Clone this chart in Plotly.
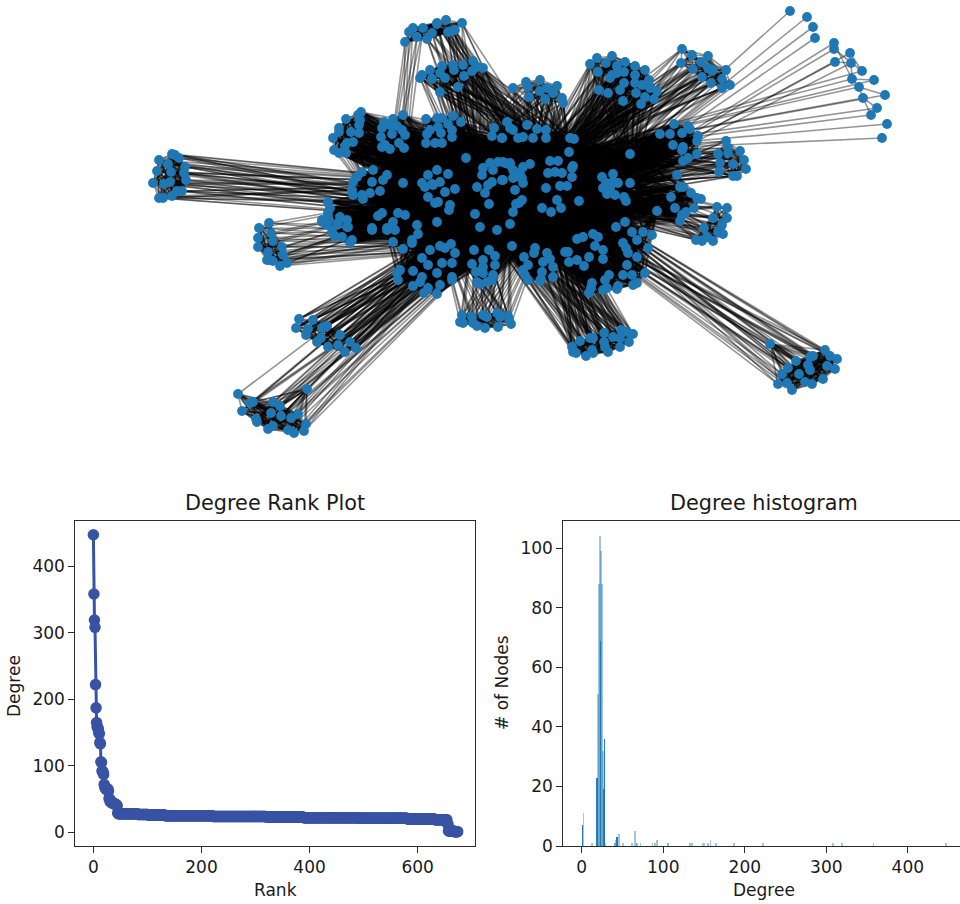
import math
import plotly.graph_objects as go

# ---------- degree histogram ----------
hist_degree = [1, 2, 12, 13, 19, 20, 21, 22, 23, 24, 25, 26, 27, 28, 29, 40, 41, 42, 43, 44, 46, 50, 51, 62, 65, 67, 68,
               72, 87, 90, 92, 105, 106, 133, 135, 148, 150, 155, 158, 165, 187, 222, 308, 319, 358, 447]
hist_count = [7, 11, 1, 1, 23, 51, 88, 104, 69, 99, 88, 32, 19, 36, 1, 1, 1, 2, 3, 3, 4, 1, 1, 1, 5, 1, 1,
              1, 1, 1, 2, 1, 1, 1, 1, 1, 1, 1, 2, 1, 1, 1, 1, 1, 1, 1]
darker_bars = [1, 19, 23, 27, 28, 43]

# ---------- network nodes, grouped by community (picture coordinates) ----------
n_left = [(172,154),(175,155),(179,158),(159,160),(168,164),(185,167),(184,173),(157,171),(171,172),(186,180),(170,182),(164,184),(153,183),(182,191),(177,191),(172,196),(163,198),(159,198)]
n_b = [(361,112),(358,115),(346,119),(360,120),(359,125),(339,128),(339,132),(351,132),(359,133),(333,138),(353,142),(347,143),(345,146),(334,150),(339,153),(346,153)]
n_c = [(403,115),(393,119),(384,122),(382,128),(390,125),(397,126),(402,130),(405,135),(392,134),(381,137),(399,143),(382,147),(390,149),(404,148),(385,145)]
n_d = [(426,119),(437,118),(442,118),(453,116),(461,122),(448,124),(452,130),(438,127),(430,130),(427,134),(441,133),(452,137),(426,143),(435,143),(442,143)]
n_top_a = [(423,28),(413,28),(409,32),(417,37),(405,42)]
n_top_b = [(446,20),(437,23),(462,23),(432,33),(452,31),(448,32),(427,39),(455,30),(437,24)]
n_f = [(473,61),(483,68),(477,67),(472,71),(463,65),(453,65),(442,66),(430,70),(422,75),(420,78),(440,73),(454,70),(464,76),(445,78),(432,79),(458,87),(440,92)]
n_g = [(513,88),(526,82),(540,80),(528,87),(547,88),(557,86),(553,93),(540,91),(529,97),(545,99),(562,98),(563,103)]
n_h = [(597,58),(612,56),(590,64),(606,63),(625,62),(617,66),(635,66),(645,70),(598,72),(612,75),(624,72),(610,78),(635,75),(624,83),(599,90),(608,93),(620,90),(635,83),(642,85),(649,80),(650,88),(657,91),(636,93),(645,97),(654,99),(623,101),(641,104),(617,73)]
n_i = [(682,49),(692,55),(708,56),(681,63),(701,62),(693,69),(708,68),(712,71),(726,70),(702,77),(722,79),(711,83),(730,85),(722,88),(713,70)]
n_far = [(790,11),(807,17),(813,27),(815,38),(834,43),(834,49),(835,62),(850,53),(851,63),(862,71),(852,79),(874,80),(859,87),(885,95),(863,98),(877,108),(871,115),(887,124),(882,138)]
n_k = [(674,124),(688,126),(690,129),(660,134),(670,134),(682,133),(698,136),(697,141),(673,145),(683,147),(682,150),(697,154),(688,158),(683,161)]
n_l = [(726,141),(728,148),(740,151),(718,154),(728,153),(744,160),(733,164),(720,163),(746,169),(719,172),(733,176),(737,176)]
n_m = [(630,154),(677,175),(680,187),(683,187),(691,193),(671,197),(697,198),(701,199),(675,208),(657,211),(694,208),(686,212),(682,215),(680,221)]
n_n = [(717,207),(727,208),(713,218),(727,218),(704,228),(722,225),(718,232),(723,234),(696,240),(702,241),(707,237),(713,241)]
n_blob = [(613,174),(602,177),(613,182),(606,183),(610,187),(618,183),(603,188),(610,190),(615,195),(607,194),(630,183),(624,197),(626,201),(579,201)]
n_mid = [(507,122),(510,128),(513,130),(527,125),(537,129),(546,130),(533,138),(546,138),(518,138),(523,137),(502,138),(570,138),(574,139),(569,152),(530,164),(550,161),(558,161),(573,166),(572,168),(503,162),(510,163),(513,170),(503,180),(520,173),(513,178),(523,183),(515,190),(548,173),(555,172),(562,173),(572,177),(546,188),(560,186),(567,186),(557,200),(522,200),(516,204),(513,212),(542,208),(551,212),(561,208),(510,224)]
n_o = [(373,170),(362,172),(357,177),(387,175),(353,182),(372,182),(383,180),(352,190),(380,191),(353,195),(362,195),(370,193),(363,199),(403,183)]
n_p = [(437,170),(428,175),(448,174),(422,183),(432,184),(425,187),(440,182),(433,185),(455,189),(445,192),(428,197),(438,202),(435,203),(450,205),(449,210),(466,158)]
n_q = [(505,163),(498,162),(490,163),(510,165),(483,168),(493,170),(482,175),(502,180),(492,182),(488,185),(477,187),(485,193),(515,177),(522,178),(519,203),(489,204),(475,214),(480,227),(523,167)]
n_r = [(494,128),(492,136),(502,138)]
n_s = [(328,202),(330,208),(328,213),(322,220),(329,220),(340,217),(347,220),(338,223),(348,227),(327,225),(382,213),(378,216),(398,213),(405,215),(393,222),(417,225),(437,222),(372,228),(387,228)]
n_t = [(269,223),(259,228),(271,233),(258,238),(273,241),(258,247),(282,247),(268,252),(283,255),(270,260),(267,260),(273,261),(287,263),(280,266)]
n_s2 = [(322,222),(337,225),(347,227),(332,232),(335,236),(342,237),(352,240),(350,243),(372,230)]
n_u = [(387,230),(395,230),(393,242),(418,234),(412,240),(412,243),(403,249),(430,250),(440,246),(445,248),(451,244),(455,253),(422,258),(428,265),(442,263),(452,263),(437,273),(400,270),(397,273),(413,271),(422,277),(398,280),(420,282),(413,286),(440,285),(452,277),(452,280),(428,288),(424,293),(437,294)]
n_v = [(474,250),(489,250),(495,256),(483,260),(472,264),(495,265),(483,267),(476,272),(493,275),(483,273),(477,282),(487,282),(492,280),(480,284)]
n_core = [(497,230),(512,246)]
n_w = [(535,248),(534,253),(524,257),(547,253),(528,265),(543,262),(550,259),(553,267),(523,270),(542,272),(553,277),(541,279),(525,275),(528,280),(540,281)]
n_x = [(577,239),(583,237),(593,234),(598,237),(565,252),(568,252),(595,246),(603,250),(589,257),(603,259),(577,260),(569,262),(584,266)]
n_y = [(616,227),(625,222),(632,232),(637,240),(623,243),(643,232),(652,235),(626,248),(628,253),(648,248),(637,257),(627,265),(645,273),(623,275),(632,275),(637,283),(633,285),(609,275),(605,280),(618,286),(617,289),(592,283),(591,288),(589,293),(603,290),(607,288)]
n_z = [(462,315),(460,322),(472,317),(483,315),(487,317),(497,313),(508,316),(509,319),(463,323),(473,323),(477,326),(498,327),(485,328),(511,324),(500,317)]
n_aa = [(580,341),(590,338),(593,338),(604,333),(621,330),(627,332),(633,334),(613,337),(620,338),(629,342),(572,347),(573,352),(604,342),(620,347),(605,347),(592,350),(593,353),(608,352),(586,356),(576,353)]
n_ab = [(825,350),(830,356),(837,359),(813,356),(810,357),(796,361),(808,365),(827,366),(788,368),(782,374),(810,370),(835,369),(799,374),(823,379),(787,383),(805,382),(812,384),(778,384),(792,390)]
n_ab_lone = [(770,344)]
n_ac = [(299,319),(313,320),(327,326),(322,328),(296,328),(308,329),(306,335),(340,335),(321,338),(317,342),(350,342),(338,345),(328,347),(356,348),(345,352)]
n_ad = [(273,402),(280,406),(253,402),(250,403),(242,411),(271,413),(281,416),(298,414),(291,418),(256,419),(257,422),(273,426),(268,429),(306,424),(288,430),(304,431),(294,433)]
n_ad_lone = [(238,394),(307,389)]

# hub nodes that the communities attach to (all are nodes listed above)
hubs = [(488,185),(489,204),(510,224),(475,214),(497,230),(512,246),(519,203),(542,208),(551,212),(561,208),
        (579,201),(569,152),(546,188),(530,164),(466,158),(437,222),(403,183),(382,213),(630,183),(657,211),(630,154)]
core_hubs = [0, 1, 2, 3, 4, 5, 6, 7, 8, 9, 10, 11, 12, 13]

# which community attaches to which hub
outer_links = [
    (n_left, [0, 1, 2]), (n_t, [0, 4, 5]), (n_ac, [3, 1, 4, 2, 6]), (n_ad, [1, 2]), (n_ad_lone, [1]),
    (n_z, [15, 3, 2, 8]), (n_aa, [3, 4, 6, 8, 7, 9]), (n_ab, [10, 8]), (n_ab_lone, [9]),
    (n_top_a, [17, 16]), (n_top_b, [14, 4, 8, 10, 13]), (n_f, [3, 4, 13, 11, 10, 18]),
    (n_g, [14, 13, 6, 12, 11, 10]), (n_h, [6, 13, 11, 10, 18, 12]), (n_i, [11, 12, 13, 10]),
    (n_l, [18, 10, 11, 12, 20]), (n_n, [18, 10, 9, 19]),
]
inner_links = [
    (n_b, core_hubs + [16, 17]), (n_c, core_hubs + [16, 17]), (n_d, core_hubs + [14, 16]), (n_o, core_hubs + [16, 17, 15]),
    (n_p, core_hubs + [14, 15, 16, 17]), (n_s, core_hubs + [15, 16, 17]), (n_s2, core_hubs + [15, 17]), (n_u, core_hubs + [15, 17]),
    (n_v, core_hubs + [15]), (n_w, core_hubs), (n_x, core_hubs + [18]), (n_y, core_hubs + [18, 19]),
    (n_k, core_hubs + [18, 20]), (n_m, core_hubs + [18, 20]), (n_blob, core_hubs + [19, 20]),
    (n_mid, core_hubs + [14, 15, 18, 19, 20]), (n_q, core_hubs + [14, 15, 16, 18]), (n_r, core_hubs), (n_core, core_hubs),
]
far_links = [(0, 10), (1, 10), (2, 10), (3, 10), (4, 10), (5, 10), (6, 10), (7, 10), (8, 10),
             (9, 11), (10, 11), (11, 11), (12, 11), (13, 11), (14, 11), (15, 11), (16, 11), (17, 11), (18, 11)]
far_inner = [(4, 10), (5, 9), (6, 8), (8, 10), (10, 12), (10, 11), (12, 14), (12, 13), (14, 16), (14, 15), (15, 16), (7, 9)]
# lone nodes sitting beside a community, with their links into it
extra_local = [n_top_a + n_top_b, n_ad + n_ad_lone, n_ab + n_ab_lone]

# ---------- styles ----------
EDGE = "rgba(0,0,0,0.42)"
EDGE_W = 1.6
NODE = "#1f78b4"
RANK = "#3953a4"
BAR = "#1f77b4"
AXIS = "#2b2b2b"
TEXT = "#1a1a1a"
FONT = "DejaVu Sans"

fig = go.Figure()

def edge_trace(pairs):
    xs, ys = [], []
    for a, b in pairs:
        xs += [a[0], b[0], None]
        ys += [a[1], b[1], None]
    fig.add_trace(go.Scatter(x=xs, y=ys, mode="lines", line=dict(color=EDGE, width=EDGE_W),
                             hoverinfo="skip", showlegend=False, xaxis="x3", yaxis="y3"))

def local_edges(nodes, radius):
    groups = [[] for _ in range(6)]
    for i in range(len(nodes)):
        for j in range(i + 1, len(nodes)):
            if math.dist(nodes[i], nodes[j]) <= radius:
                groups[(i + j) % 6].append((nodes[i], nodes[j]))
    for g in groups:
        if g:
            edge_trace(g)

for nodes in extra_local:
    local_edges(nodes, 62)

# peripheral communities: dense inside, one trace per hub so strands add up
for nodes, targets in outer_links:
    if not any(nodes is m or nodes is n_top_b for m in (n_top_a, n_ad, n_ad_lone, n_ab, n_ab_lone)):
        local_edges(nodes, 38)
    for t in targets:
        edge_trace([(p, hubs[t]) for p in nodes])

# central communities: a few hubs in each trace
for nodes, targets in inner_links:
    local_edges(nodes, 38)
    for k in range(0, len(targets), 3):
        edge_trace([(p, hubs[t]) for p in nodes for t in targets[k:k + 3]])

edge_trace([(n_far[i], hubs[t]) for i, t in far_links])
edge_trace([(n_far[i], n_far[j]) for i, j in far_inner])

all_nodes = []
for group in (n_left, n_b, n_c, n_d, n_top_a, n_top_b, n_f, n_g, n_h, n_i, n_far, n_k, n_l, n_m, n_n, n_blob, n_mid,
              n_o, n_p, n_q, n_r, n_s, n_t, n_s2, n_u, n_v, n_core, n_w, n_x, n_y, n_z, n_aa, n_ab, n_ab_lone,
              n_ac, n_ad, n_ad_lone):
    all_nodes += group

fig.add_trace(go.Scatter(x=[p[0] for p in all_nodes], y=[p[1] for p in all_nodes], mode="markers",
                         marker=dict(color=NODE, size=9.8, line=dict(width=0)),
                         hoverinfo="skip", showlegend=False, xaxis="x3", yaxis="y3"))

# ---------- rank plot: sorted degrees expanded from the histogram ----------
degree_sequence = []
for d, c in sorted(zip(hist_degree, hist_count), reverse=True):
    degree_sequence += [d] * c
fig.add_trace(go.Scatter(x=list(range(len(degree_sequence))), y=degree_sequence, mode="lines+markers",
                         line=dict(color=RANK, width=3), marker=dict(color=RANK, size=11.5),
                         showlegend=False, xaxis="x", yaxis="y"))

# ---------- histogram ----------
fig.add_trace(go.Bar(x=hist_degree, y=hist_count, width=0.8,
                     marker=dict(color=BAR, line=dict(width=0),
                                 opacity=[0.95 if d in darker_bars else 0.42 for d in hist_degree]),
                     showlegend=False, xaxis="x2", yaxis="y2"))

W, H = 960, 904
def ax(**kw):
    base = dict(showgrid=False, zeroline=False, showline=True, linecolor=AXIS, linewidth=1.4, automargin=False,
                ticks="outside", ticklen=5.5, tickwidth=1.3, tickcolor=AXIS,
                tickfont=dict(family=FONT, size=17, color=TEXT))
    base.update(kw)
    return base

def label(text, px, py, size, angle=0):
    return dict(text=text, x=px / W, y=1 - py / H, xref="paper", yref="paper", showarrow=False,
                xanchor="center", yanchor="middle", textangle=angle, font=dict(family=FONT, size=size, color=TEXT))

fig.update_layout(
    width=W, height=H, margin=dict(l=0, r=0, t=0, b=0), autosize=False,
    paper_bgcolor="white", plot_bgcolor="rgba(0,0,0,0)", showlegend=False, bargap=0,
    xaxis=ax(domain=[75 / W, 475 / W], range=[-34, 706], tickvals=[0, 200, 400, 600], mirror=True, anchor="y"),
    yaxis=ax(domain=[1 - 846 / H, 1 - 521 / H], range=[-20.5, 467.7], tickvals=[0, 100, 200, 300, 400], mirror=True, anchor="x"),
    xaxis2=ax(domain=[563 / W, 1], range=[-23, 464], tickvals=[0, 100, 200, 300, 400], mirror=True, anchor="y2"),
    yaxis2=ax(domain=[1 - 846 / H, 1 - 521 / H], range=[0, 109.2], tickvals=[0, 20, 40, 60, 80, 100], anchor="x2"),
    xaxis3=dict(domain=[0, 1], range=[0, W], visible=False, anchor="y3", automargin=False),
    yaxis3=dict(domain=[0, 1], range=[H, 0], visible=False, anchor="x3", automargin=False),
    annotations=[
        label("Degree Rank Plot", 275, 503, 20.8),
        label("Degree histogram", 764, 503, 20.8),
        label("Rank", 275, 890, 17),
        label("Degree", 764, 890, 17),
        label("Degree", 14, 686, 17, -90),
        label("# of Nodes", 502, 683, 17, -90),
    ],
)

fig.write_html("out.html", config={"displayModeBar": False},
               post_script="document.body.style.margin='0';document.documentElement.style.overflow='hidden';")
